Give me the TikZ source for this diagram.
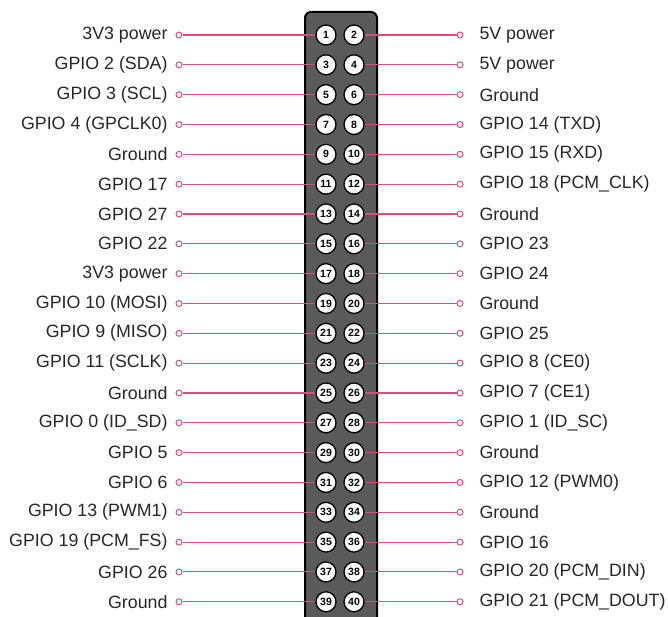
\documentclass[tikz,border=0pt]{standalone}
\usepackage{fontspec}
\setmainfont{Liberation Sans}
\usetikzlibrary{positioning,calc}
\definecolor{hdrgrey}{HTML}{5A5A5A}
\definecolor{wirepink}{HTML}{D6517A}
\definecolor{txtgrey}{HTML}{262626}

\begin{document}
\begin{tikzpicture}[
  x=1pt, y=-1pt,
  header/.style={draw=black, line width=2pt, rounded corners=6pt, fill=hdrgrey},
  pin/.style={circle, draw=black, line width=1.3pt, fill=white, inner sep=0pt,
              minimum size=20pt, font=\fontsize{10.5}{10.5}\selectfont\bfseries, text=black},
  term/.style={circle, draw=wirepink, line width=1pt, fill=white, inner sep=0pt,
               minimum size=6pt},
  wire/.style={wirepink, line width=1.1pt},
  lblL/.style={font=\fontsize{17.8}{19}\selectfont, text=txtgrey, anchor=east},
  lblR/.style={font=\fontsize{17.8}{19}\selectfont, text=txtgrey, anchor=west},
]
\path[use as bounding box] (0,0) rectangle (668,617);
\clip (0,0) rectangle (668,617);

%% ---- Cabecera de 40 pines ----
\draw[header] (305,12) rectangle (377,640);

%% ---- Columna izquierda (pines impares) ----
\foreach \lab [count=\k] in {3V3 power, GPIO 2 (SDA), GPIO 3 (SCL), GPIO 4 (GPCLK0),
    Ground, GPIO 17, GPIO 27, GPIO 22, 3V3 power, GPIO 10 (MOSI), GPIO 9 (MISO),
    GPIO 11 (SCLK), Ground, GPIO 0 (ID\_SD), GPIO 5, GPIO 6, GPIO 13 (PWM1),
    GPIO 19 (PCM\_FS), GPIO 26, Ground}{
  \pgfmathtruncatemacro{\n}{2*\k-1}
  \node[pin]  (p\n) at (326,{35+(\k-1)*29.83}) {\n};
  \node[term] (tl\k) at (179,{35+(\k-1)*29.83}) {};
  \node[lblL, left=8pt of tl\k.center, anchor=east] {\lab};
  \draw[wire] (tl\k) -- (p\n);
}

%% ---- Columna derecha (pines pares) ----
\foreach \lab [count=\k] in {5V power, 5V power, Ground, GPIO 14 (TXD), GPIO 15 (RXD),
    GPIO 18 (PCM\_CLK), Ground, GPIO 23, GPIO 24, Ground, GPIO 25, GPIO 8 (CE0),
    GPIO 7 (CE1), GPIO 1 (ID\_SC), Ground, GPIO 12 (PWM0), Ground, GPIO 16,
    GPIO 20 (PCM\_DIN), GPIO 21 (PCM\_DOUT)}{
  \pgfmathtruncatemacro{\n}{2*\k}
  \node[pin]  (p\n) at (354,{35+(\k-1)*29.83}) {\n};
  \node[term] (tr\k) at (460,{35+(\k-1)*29.83}) {};
  \node[lblR, right=16pt of tr\k.center, anchor=west] {\lab};
  \draw[wire] (p\n) -- (tr\k);
}

\end{tikzpicture}
\end{document}
